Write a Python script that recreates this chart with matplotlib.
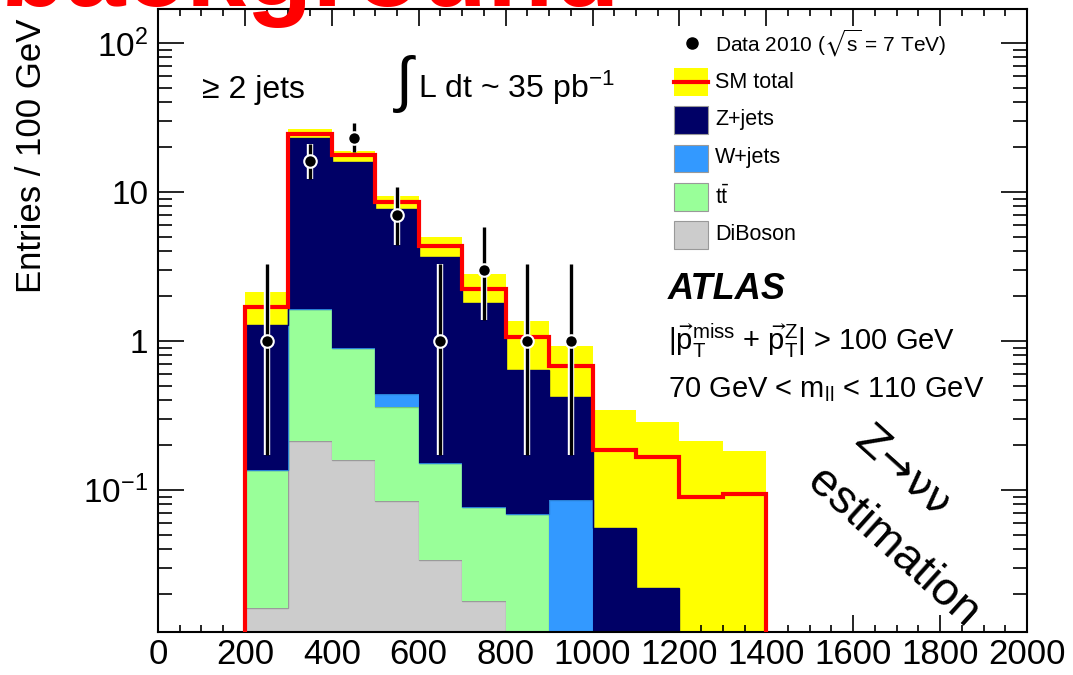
import numpy as np
import matplotlib
matplotlib.use('Agg')
import matplotlib.pyplot as plt
import matplotlib.patheffects as pe
from matplotlib.patches import Rectangle
from matplotlib.lines import Line2D
from matplotlib.ticker import FixedLocator, FixedFormatter, MultipleLocator, LogLocator, NullFormatter

plt.rcParams['font.family'] = ['Liberation Sans', 'DejaVu Sans']
plt.rcParams['mathtext.fontset'] = 'custom'
plt.rcParams['mathtext.rm'] = 'Liberation Sans'
plt.rcParams['mathtext.it'] = 'Liberation Sans:italic'
plt.rcParams['mathtext.bf'] = 'Liberation Sans:bold'
plt.rcParams['mathtext.sf'] = 'Liberation Sans'
plt.rcParams['mathtext.fallback'] = 'stixsans'

# 100 GeV bins
bin_edges = [200, 300, 400, 500, 600, 700, 800, 900, 1000, 1100, 1200, 1300, 1400]

# stacked MC contributions per bin
diboson = [0.016, 0.214, 0.159, 0.084, 0.034, 0.018, 0, 0, 0, 0, 0, 0]
ttbar = [0.119, 1.43, 0.734, 0.275, 0.118, 0.059, 0.069, 0, 0, 0, 0, 0]
wjets = [0, 0, 0, 0.080, 0, 0, 0, 0.086, 0, 0, 0, 0]
zjets = [1.15, 21.4, 15.0, 7.26, 3.51, 1.72, 0.571, 0.334, 0.055, 0.022, 0, 0]

# SM total and its uncertainty (yellow band)
sm_total = [1.70, 24.5, 17.7, 8.56, 4.34, 2.23, 1.06, 0.68, 0.186, 0.167, 0.089, 0.094]
sm_err = [0.44, 2.0, 1.1, 0.84, 0.65, 0.59, 0.30, 0.25, 0.158, 0.118, 0.125, 0.089]

# data 2010
data_x = [250, 350, 450, 550, 650, 750, 850, 950]
data_y = [1, 16, 23, 7, 1, 3, 1, 1]
data_lo = [0.17, 12.2, 18.6, 4.4, 0.17, 1.38, 0.17, 0.17]
data_hi = [3.3, 21.0, 29.2, 10.75, 3.3, 5.85, 3.3, 3.3]

c_yellow = '#ffff00'
c_red = '#ff0000'
c_z = '#000066'
c_w = '#3399ff'
c_tt = '#99ff99'
c_db = '#cccccc'

W, H = 1073, 675
def fx(px):
    return px / W
def fy(py):
    return 1 - py / H

fig = plt.figure(figsize=(W / 100, H / 100), dpi=100)
ax = fig.add_axes([fx(158), fy(632), (1027 - 158) / W, (632 - 9) / H])
ax.set_yscale('log')
ax.set_xlim(0, 2000)
ax.set_ylim(0.0111, 169)

edges = np.array(bin_edges, dtype=float)
floor = 1e-4

# uncertainty band underneath the stack
band_hi = np.array(sm_total) + np.array(sm_err)
ax.stairs(band_hi, edges, baseline=floor, fill=True, color=c_yellow, lw=0, zorder=1)

cum = np.zeros(len(edges) - 1)
for vals, fc, ec in [(diboson, c_db, '#9a9a9a'), (ttbar, c_tt, '#77c877'),
                     (wjets, c_w, '#2a7fd4'), (zjets, c_z, c_z)]:
    top = cum + np.array(vals)
    bot = np.maximum(cum, floor)
    ax.stairs(np.maximum(top, floor), edges, baseline=bot, fill=True,
              facecolor=fc, edgecolor='none', lw=0, zorder=2)
    ax.stairs(np.maximum(top, floor), edges, baseline=None, color=ec, lw=1, zorder=2)
    cum = top

ax.stairs(sm_total, edges, baseline=floor, color=c_red, lw=3, zorder=3)

y = np.array(data_y, dtype=float)
yerr = [y - np.array(data_lo), np.array(data_hi) - y]
eb = ax.errorbar(data_x, y, yerr=yerr, fmt='o', color='black', ms=9, mec='white', mew=1.5,
                 elinewidth=2.4, capsize=0, zorder=5)
eb[2][0].set_path_effects([pe.Stroke(linewidth=4.6, foreground='white'), pe.Normal()])

# axes styling
ax.xaxis.set_major_locator(MultipleLocator(200))
ax.xaxis.set_minor_locator(MultipleLocator(50))
ax.yaxis.set_major_locator(FixedLocator([0.1, 1, 10, 100]))
ax.yaxis.set_major_formatter(FixedFormatter(['10$^{-1}$', '1', '10', '10$^{2}$']))
ax.yaxis.set_minor_locator(LogLocator(base=10, subs=np.arange(2, 10)))
ax.yaxis.set_minor_formatter(NullFormatter())
ax.tick_params(which='both', direction='in', top=True, right=True, width=1.2)
ax.tick_params(axis='x', which='major', length=12, labelsize=25, pad=4)
ax.tick_params(axis='x', which='minor', length=5)
ax.tick_params(axis='y', which='major', length=19, labelsize=24, pad=7)
ax.tick_params(axis='y', which='minor', length=10)
for s in ax.spines.values():
    s.set_linewidth(1.5)

fig.text(fx(32), fy(156), 'Entries / 100 GeV', rotation=90, ha='center', va='center', fontsize=25)

# legend drawn by hand
fig.add_artist(Line2D([fx(692)], [fy(43)], marker='o', color='black', ms=8, transform=fig.transFigure))
fig.text(fx(715), fy(43), r'Data 2010 ($\sqrt{\mathrm{s}}$ = 7 TeV)', va='center', fontsize=15)
legend_rows = [('SM total', c_yellow, 82), ('Z+jets', c_z, 120), ('W+jets', c_w, 158),
               (r'$\mathrm{t\bar{t}}$', c_tt, 197), ('DiBoson', c_db, 235)]
for lab, col, yc in legend_rows:
    ec = 'none' if col == c_yellow else '#999999'
    fig.add_artist(Rectangle((fx(674), fy(yc + 13.5)), 34 / W, 27 / H, facecolor=col,
                             edgecolor=ec, lw=0.8, transform=fig.transFigure))
    fig.text(fx(715), fy(yc), lab, va='center', fontsize=15.5)
fig.add_artist(Line2D([fx(674), fx(708)], [fy(82), fy(82)], color=c_red, lw=3,
                      transform=fig.transFigure))

# annotations
fig.text(fx(202), fy(98), '≥ 2 jets', fontsize=23, va='baseline')
fig.text(fx(405), fy(84), r'$\int$', fontsize=44, ha='center', va='center')
fig.text(fx(418), fy(98), r'L dt ~ 35 pb$^{\mathrm{-1}}$', fontsize=23, va='baseline')
fig.text(fx(668), fy(299), 'ATLAS', fontsize=26, weight='bold', style='italic', va='baseline')
fig.text(fx(668), fy(350),
         r'$|\vec{\mathrm{p}}_{\mathrm{T}}^{\mathrm{miss}}$ + $\vec{\mathrm{p}}_{\mathrm{T}}^{\mathrm{Z}}|$ > 100 GeV',
         fontsize=21, va='baseline')
fig.text(fx(668), fy(397), r'70 GeV < m$_{\mathrm{ll}}$ < 110 GeV', fontsize=21, va='baseline')
fig.text(fx(902), fy(472), 'Z→νν', family='DejaVu Sans', fontsize=31, rotation=-42,
         rotation_mode='anchor', ha='center', va='center')
fig.text(fx(893), fy(548), 'estimation', fontsize=34, rotation=-42, rotation_mode='anchor',
         ha='center', va='center')

# red overlay title, cut by the top edge
fig.text(fx(0), fy(6), 'background', color=c_red, fontsize=78, weight='bold',
         va='baseline', zorder=10)

fig.savefig('out.png', dpi=100)
